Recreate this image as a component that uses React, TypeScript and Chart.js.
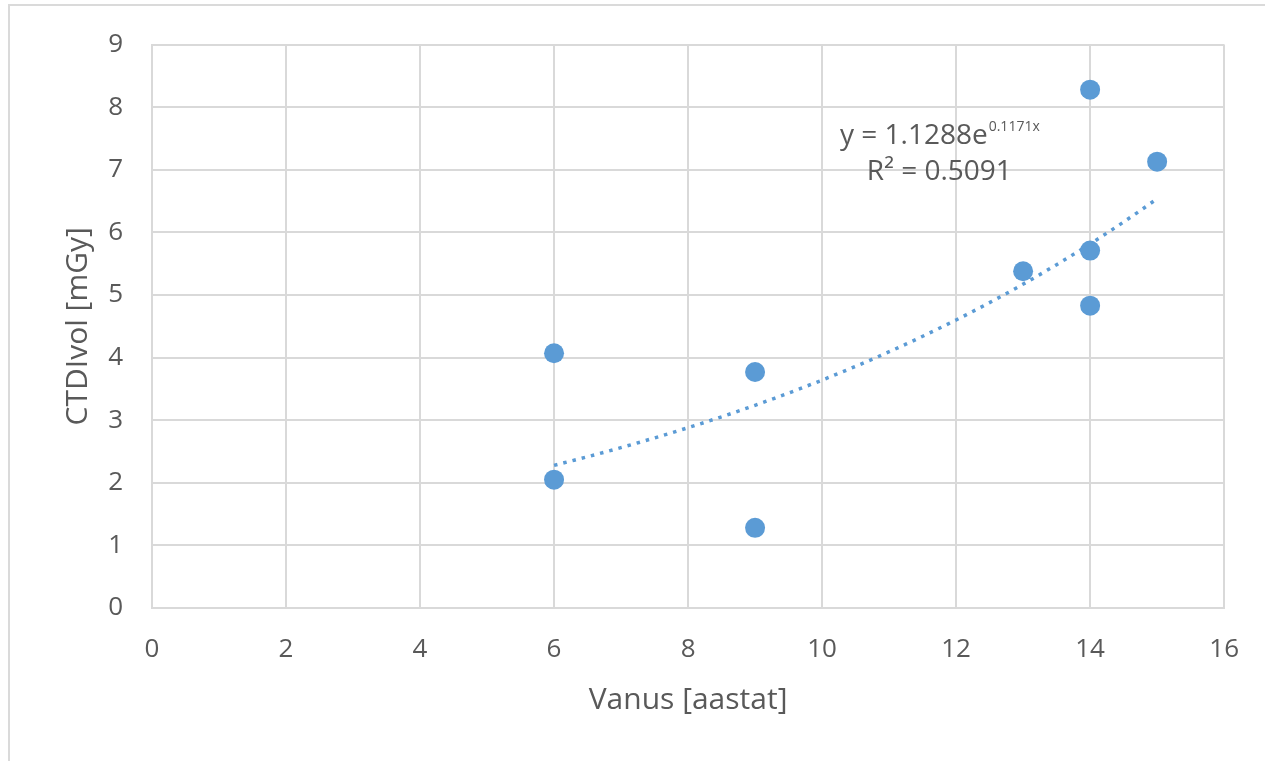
import React, { useEffect, useRef } from "react";
import { Chart, registerables } from "chart.js";

Chart.register(...registerables);

const ages = [6, 6, 9, 9, 13, 14, 14, 14, 15];
const ctdi = [4.07, 2.05, 3.77, 1.28, 5.38, 8.28, 5.71, 4.83, 7.13];
const trendA = 1.1288;
const trendB = 0.1171;
const trendR2 = 0.5091;
const xTickMax = 16;
const yTickMax = 9;

const FONT = "'Open Sans', 'DejaVu Sans', sans-serif";
const GRAY = "#595959";
const GRID = "#d9d9d9";
const BLUE = "#5b9bd5";

export default function App() {
  const ref = useRef<HTMLCanvasElement>(null);

  useEffect(() => {
    if (!ref.current) return;
    const xMin = Math.min(...ages);
    const xMax = Math.max(...ages);
    const trend: { x: number; y: number }[] = [];
    const steps = 60;
    for (let i = 0; i <= steps; i++) {
      const x = xMin + ((xMax - xMin) * i) / steps;
      trend.push({ x, y: trendA * Math.exp(trendB * x) });
    }

    const framePlugin = {
      id: "frame",
      beforeDraw(chart: any) {
        const ctx = chart.ctx;
        ctx.save();
        ctx.strokeStyle = "#dadada";
        ctx.lineWidth = 2;
        ctx.beginPath();
        ctx.moveTo(9, 761);
        ctx.lineTo(9, 5);
        ctx.lineTo(1265, 5);
        ctx.stroke();
        ctx.restore();
      },
      afterDatasetsDraw(chart: any) {
        const ctx = chart.ctx;
        const xs = chart.scales.x;
        const ys = chart.scales.y;
        const cx = xs.getPixelForValue(11.75);
        const y1 = ys.getPixelForValue(7.42);
        const y2 = ys.getPixelForValue(6.83);
        ctx.save();
        ctx.fillStyle = GRAY;
        ctx.textBaseline = "alphabetic";
        const main = "y = " + trendA.toFixed(4) + "e";
        const sup = trendB.toFixed(4) + "x";
        ctx.font = `28px ${FONT}`;
        const wMain = ctx.measureText(main).width;
        ctx.font = `14px ${FONT}`;
        const wSup = ctx.measureText(sup).width;
        const start = cx - (wMain + wSup) / 2;
        ctx.font = `28px ${FONT}`;
        ctx.textAlign = "left";
        ctx.fillText(main, start, y1);
        ctx.font = `14px ${FONT}`;
        ctx.fillText(sup, start + wMain + 1, y1 - 13);
        ctx.font = `28px ${FONT}`;
        ctx.textAlign = "center";
        ctx.fillText("R² = " + trendR2.toFixed(4), cx, y2);
        ctx.restore();
      },
    };

    const chart = new Chart(ref.current, {
      type: "scatter",
      data: {
        datasets: [
          {
            label: "CTDIvol",
            data: ages.map((a, i) => ({ x: a, y: ctdi[i] })),
            backgroundColor: BLUE,
            borderColor: BLUE,
            pointRadius: 10,
            pointHoverRadius: 10,
            borderWidth: 0,
            order: 1,
          },
          {
            type: "line",
            label: "Trend",
            data: trend,
            showLine: true,
            borderColor: BLUE,
            borderWidth: 3.5,
            borderDash: [3.5, 6],
            pointRadius: 0,
            fill: false,
            tension: 0,
            order: 2,
          } as any,
        ],
      },
      options: {
        animation: false,
        responsive: false,
        maintainAspectRatio: false,
        layout: { padding: { left: 0, top: 44, right: 40, bottom: 0 } },
        plugins: {
          legend: { display: false },
          tooltip: { enabled: false },
        },
        scales: {
          x: {
            type: "linear",
            min: 0,
            max: xTickMax,
            afterFit: (s: any) => {
              s.height = 153;
            },
            ticks: {
              stepSize: 2,
              color: GRAY,
              font: { family: FONT, size: 26 },
              padding: 26,
            },
            grid: { color: GRID, lineWidth: 2, drawTicks: false },
            border: { color: GRID, width: 2 },
            title: {
              display: true,
              text: "Vanus [aastat]",
              color: GRAY,
              font: { family: FONT, size: 30 },
              padding: { top: 0, bottom: 43 },
            },
          },
          y: {
            type: "linear",
            min: 0,
            max: yTickMax,
            afterFit: (s: any) => {
              s.width = 152;
            },
            ticks: {
              stepSize: 1,
              color: GRAY,
              font: { family: FONT, size: 26 },
              padding: 29,
            },
            grid: { color: GRID, lineWidth: 2, drawTicks: false },
            border: { color: GRID, width: 2 },
            title: {
              display: true,
              text: "CTDIvol [mGy]",
              color: GRAY,
              font: { family: FONT, size: 30 },
              padding: { top: 60, bottom: 0 },
            },
          },
        },
      },
      plugins: [framePlugin],
    });
    return () => chart.destroy();
  }, []);

  return (
    <div style={{ position: "absolute", left: 0, top: 0, width: 1265, height: 761, background: "#fff" }}>
      <canvas ref={ref} width={1265} height={761} style={{ width: 1265, height: 761, display: "block" }} />
    </div>
  );
}
